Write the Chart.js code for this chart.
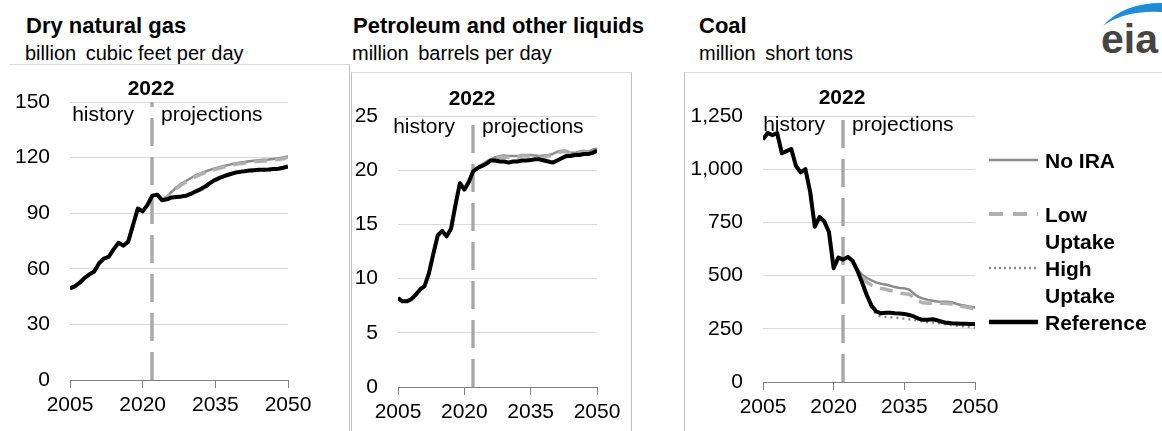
<!DOCTYPE html>
<html><head><meta charset="utf-8">
<script src="https://cdn.jsdelivr.net/npm/chart.js@4.4.1/dist/chart.umd.min.js"></script>
<style>
html,body{margin:0;padding:0;background:#fff;}
body{width:1162px;height:431px;position:relative;overflow:hidden;font-family:"Liberation Sans",Arial,sans-serif;color:#000;}
.abs{position:absolute;}
.title{position:absolute;font-weight:bold;font-size:22px;line-height:22px;white-space:pre;}
.sub{position:absolute;font-size:20px;line-height:20px;white-space:pre;}
.panel{position:absolute;box-sizing:border-box;}
canvas{position:absolute;}
.lg{position:absolute;font-weight:bold;font-size:21px;line-height:27px;white-space:pre;}
</style></head><body>

<div class="panel" style="left:10px;top:64px;width:340px;height:380px;border-top:1px solid #d9d9d9;border-right:1px solid #c0c0c0;"></div>
<div class="panel" style="left:351px;top:72px;width:281px;height:380px;border-top:1px solid #d9d9d9;border-left:1px solid #c0c0c0;border-right:1px solid #c0c0c0;"></div>
<div class="panel" style="left:684px;top:72px;width:480px;height:380px;border-top:1px solid #d9d9d9;border-left:1px solid #c0c0c0;"></div>

<div class="title" style="left:26px;top:15px;">Dry natural gas</div>
<div class="sub" style="left:25px;top:43px;">billion&#8201; cubic feet per day</div>
<div class="title" style="left:353px;top:15px;">Petroleum and other liquids</div>
<div class="sub" style="left:352px;top:43px;">million&#8201; barrels per day</div>
<div class="title" style="left:699px;top:15px;">Coal</div>
<div class="sub" style="left:699px;top:43px;">million&#8201; short tons</div>

<svg class="abs" style="left:1095px;top:0px;" width="67" height="60">
  <path d="M8 26 Q28 3 67 3 L67 12 Q30 10 8 26 Z" fill="#1f8dd6"/>
  <text x="6" y="53" font-family="Liberation Sans, Arial, sans-serif" font-weight="bold" font-size="41" fill="#454545">eia</text>
</svg>

<canvas id="gas" width="345" height="367" style="left:0px;top:64px;"></canvas>
<canvas id="pet" width="280" height="359" style="left:351px;top:72px;"></canvas>
<canvas id="coal" width="330" height="359" style="left:684px;top:72px;"></canvas>

<div id="legend"></div>

<script>
// ---------- categories / ticks ----------
const years = [2005,2006,2007,2008,2009,2010,2011,2012,2013,2014,2015,2016,2017,2018,2019,2020,2021,2022,
  2023,2024,2025,2026,2027,2028,2029,2030,2031,2032,2033,2034,2035,2036,2037,2038,2039,2040,
  2041,2042,2043,2044,2045,2046,2047,2048,2049,2050];
const xTicks = [2005, 2020, 2035, 2050];
const markerYear = 2022;

// ---------- Dry natural gas (billion cubic feet per day) ----------
const gasTicks = [0, 30, 60, 90, 120, 150];
const gasHistory = [49.5,50.5,52.5,55.0,57.0,58.5,63.0,65.5,66.5,70.5,74.0,72.5,74.5,83.5,92.5,91.0,94.5,99.5];
const gasReference = [100.0,97.0,97.5,98.5,98.8,99.0,99.5,100.5,101.8,103.0,104.5,106.5,108.0,109.2,110.2,111.0,111.8,112.3,112.6,113.0,113.2,113.4,113.5,113.6,113.8,114.0,114.5,115.2];
const gasNoIRA = [100.0,97.5,99.0,101.5,104.0,106.0,107.5,109.0,110.5,111.5,112.5,113.5,114.3,115.0,115.6,116.2,116.8,117.3,117.6,118.0,118.3,118.6,118.8,119.0,119.3,119.6,120.0,120.8];
const gasLowUptake = [100.0,97.4,98.7,101.0,103.4,105.4,106.9,108.4,109.9,110.9,111.9,112.9,113.7,114.4,115.0,115.6,116.2,116.7,117.0,117.4,117.7,118.0,118.2,118.4,118.7,119.0,119.4,120.2];
const gasHighUptake = [100.0,97.0,97.3,98.2,98.4,98.6,99.0,100.0,101.3,102.5,104.0,106.0,107.5,108.7,109.7,110.5,111.3,111.8,112.1,112.5,112.7,112.9,113.0,113.1,113.3,113.5,114.0,114.7];

// ---------- Petroleum and other liquids (million barrels per day) ----------
const petTicks = [0, 5, 10, 15, 20, 25];
const petHistory = [8.2,7.9,7.9,8.1,8.5,9.0,9.3,10.5,12.3,14.0,14.4,13.9,14.6,16.8,18.8,18.2,18.9,19.9];
const petReference = [20.2,20.4,20.6,20.9,20.9,20.8,20.8,20.7,20.8,20.8,20.9,20.9,20.95,21.0,21.0,20.9,20.8,20.7,20.9,21.1,21.3,21.3,21.4,21.4,21.5,21.5,21.6,21.8];
const petNoIRA = [20.2,20.5,20.8,21.0,21.2,21.3,21.35,21.3,21.3,21.3,21.4,21.4,21.4,21.35,21.3,21.35,21.4,21.5,21.7,21.8,21.8,21.6,21.6,21.7,21.8,21.7,21.9,22.0];
const petLowUptake = [20.2,20.5,20.7,21.0,21.1,21.2,21.2,21.2,21.2,21.2,21.3,21.3,21.3,21.3,21.2,21.2,21.3,21.4,21.6,21.7,21.7,21.5,21.5,21.6,21.7,21.6,21.8,21.9];
const petHighUptake = [20.2,20.4,20.6,20.9,20.9,20.8,20.8,20.7,20.8,20.8,20.9,20.9,20.9,21.0,21.0,20.9,20.8,20.7,20.9,21.1,21.2,21.3,21.4,21.4,21.4,21.5,21.6,21.7];

// ---------- Coal (million short tons) ----------
const coalTicks = [0, 250, 500, 750, 1000, 1250];
const coalHistory = [1140,1170,1160,1170,1075,1085,1095,1015,985,1000,895,730,775,755,705,535,585,575];
const coalReference = [588,570,525,470,410,360,332,323,325,325,323,322,320,315,308,298,292,293,295,290,283,278,276,275,274,274,273,272];
const coalNoIRA = [588,570,530,505,490,478,468,462,458,452,446,442,440,435,415,400,392,386,382,378,377,377,375,368,362,358,354,350];
const coalLowUptake = [588,570,528,495,470,455,445,440,436,430,424,418,415,412,398,380,372,370,370,370,370,369,367,362,356,352,348,344];
const coalHighUptake = [588,570,522,465,405,350,318,308,306,304,302,300,298,295,292,288,284,281,279,277,275,270,268,265,262,260,258,256];

// ---------- series styles (first one is drawn on top) ----------
const seriesStyles = [
  {key:'ref',  label:'Reference',   color:'#000000', width:4,   dash:[],     lgWidth:4.5},
  {key:'high', label:'High Uptake', color:'#8c8c8c', width:2.5, dash:[2,4],  lgWidth:2.5},
  {key:'low',  label:'Low Uptake',  color:'#b0b0b0', width:3.5, dash:[13,8], lgWidth:4},
  {key:'noira',label:'No IRA',      color:'#8c8c8c', width:2.5, dash:[],     lgWidth:2.5}
];
const legendOrder = ['noira','low','high','ref'];

const FONT = '"Liberation Sans", Arial, sans-serif';

const markerPlugin = {
  id: 'marker',
  beforeDatasetsDraw(chart, args, o) {
    const {ctx, chartArea, scales} = chart;
    const px = Math.round(scales.x.getPixelForValue(o.year));
    ctx.save();
    ctx.strokeStyle = '#a6a6a6';
    ctx.lineWidth = 3.3;
    ctx.setLineDash([28, 11]);
    ctx.beginPath();
    ctx.moveTo(px, chartArea.bottom);
    ctx.lineTo(px, chartArea.top);
    ctx.stroke();
    ctx.restore();
  },
  afterDraw(chart, args, o) {
    const {ctx, chartArea, scales} = chart;
    const px = Math.round(scales.x.getPixelForValue(o.year));
    ctx.save();
    ctx.fillStyle = '#000';
    ctx.textBaseline = 'middle';
    ctx.font = 'bold 21px ' + FONT;
    ctx.textAlign = 'center';
    ctx.fillText(String(o.year), px - 1, chartArea.top + o.yearDy);
    ctx.font = '21px ' + FONT;
    ctx.textAlign = 'right';
    ctx.fillText('history', px - 18, chartArea.top + o.textDy);
    ctx.textAlign = 'left';
    ctx.fillText('projections', px + 9, chartArea.top + o.textDy);
    ctx.restore();
  }
};

function makeChart(id, p) {
  const proj = {ref: p.ref, noira: p.noira, low: p.low, high: p.high};
  return new Chart(document.getElementById(id), {
    type: 'line',
    data: {
      labels: years,
      datasets: seriesStyles.map(s => ({
        label: s.label,
        data: p.hist.concat(proj[s.key]),
        borderColor: s.color,
        borderWidth: s.width,
        borderDash: s.dash,
        pointRadius: 0,
        tension: 0,
        fill: false,
        borderJoinStyle: 'round'
      }))
    },
    options: {
      responsive: false,
      animation: false,
      devicePixelRatio: 1,
      events: [],
      layout: {padding: {top: p.padTop, right: p.padRight, left: 0, bottom: 0}},
      plugins: {
        legend: {display: false},
        tooltip: {enabled: false},
        marker: {year: markerYear, yearDy: p.yearDy, textDy: p.textDy}
      },
      scales: {
        x: {
          type: 'linear',
          min: years[0], max: years[years.length - 1],
          afterBuildTicks: s => { s.ticks = xTicks.map(v => ({value: v})); },
          afterFit: s => { s.height = p.xH; },
          grid: {display: true, drawOnChartArea: false, drawTicks: true, tickLength: 8, color: '#808080', lineWidth: 1},
          border: {display: true, color: '#808080', width: 1},
          ticks: {font: {family: FONT, size: 21}, color: '#000', padding: 5, maxRotation: 0, autoSkip: false,
                  callback: v => String(v)}
        },
        y: {
          min: p.ticks[0], max: p.ticks[p.ticks.length - 1],
          afterBuildTicks: s => { s.ticks = p.ticks.map(v => ({value: v})); },
          afterFit: s => { s.width = p.yW; },
          grid: {color: '#d9d9d9', lineWidth: 1, drawTicks: false},
          border: {display: false},
          ticks: {font: {family: FONT, size: 21}, color: '#000', padding: 20,
                  callback: v => Number(v).toLocaleString('en-US')}
        }
      }
    },
    plugins: [markerPlugin]
  });
}

makeChart('gas', {hist: gasHistory, ref: gasReference, noira: gasNoIRA, low: gasLowUptake, high: gasHighUptake,
  ticks: gasTicks, padTop: 38, padRight: 57, yW: 70, xH: 51, yearDy: -13, textDy: 13});
makeChart('pet', {hist: petHistory, ref: petReference, noira: petNoIRA, low: petLowUptake, high: petHighUptake,
  ticks: petTicks, padTop: 44, padRight: 34, yW: 47, xH: 44, yearDy: -17, textDy: 11});
makeChart('coal', {hist: coalHistory, ref: coalReference, noira: coalNoIRA, low: coalLowUptake, high: coalHighUptake,
  ticks: coalTicks, padTop: 44, padRight: 39, yW: 79, xH: 49, yearDy: -18, textDy: 9});

// ---------- legend (HTML) ----------
const legendY = [160, 214, 268, 322];
const lg = document.getElementById('legend');
legendOrder.forEach((k, i) => {
  const s = seriesStyles.find(t => t.key === k);
  const y = legendY[i];
  const svg = document.createElementNS('http://www.w3.org/2000/svg', 'svg');
  svg.setAttribute('width', '50'); svg.setAttribute('height', '10');
  svg.setAttribute('class', 'abs');
  svg.style.left = '989px'; svg.style.top = (y - 5) + 'px';
  const ln = document.createElementNS('http://www.w3.org/2000/svg', 'line');
  ln.setAttribute('x1', '0'); ln.setAttribute('x2', '49');
  ln.setAttribute('y1', '5'); ln.setAttribute('y2', '5');
  ln.setAttribute('stroke', s.color);
  ln.setAttribute('stroke-width', String(s.lgWidth));
  if (s.key === 'low') ln.setAttribute('stroke-dasharray', '14 10');
  if (s.key === 'high') ln.setAttribute('stroke-dasharray', '2 3');
  svg.appendChild(ln);
  lg.appendChild(svg);
  const d = document.createElement('div');
  d.className = 'lg';
  d.style.left = '1045px';
  d.style.top = (y - 13.5) + 'px';
  d.textContent = s.label.replace(' Uptake', '\nUptake');
  lg.appendChild(d);
});
</script>
</body></html>
